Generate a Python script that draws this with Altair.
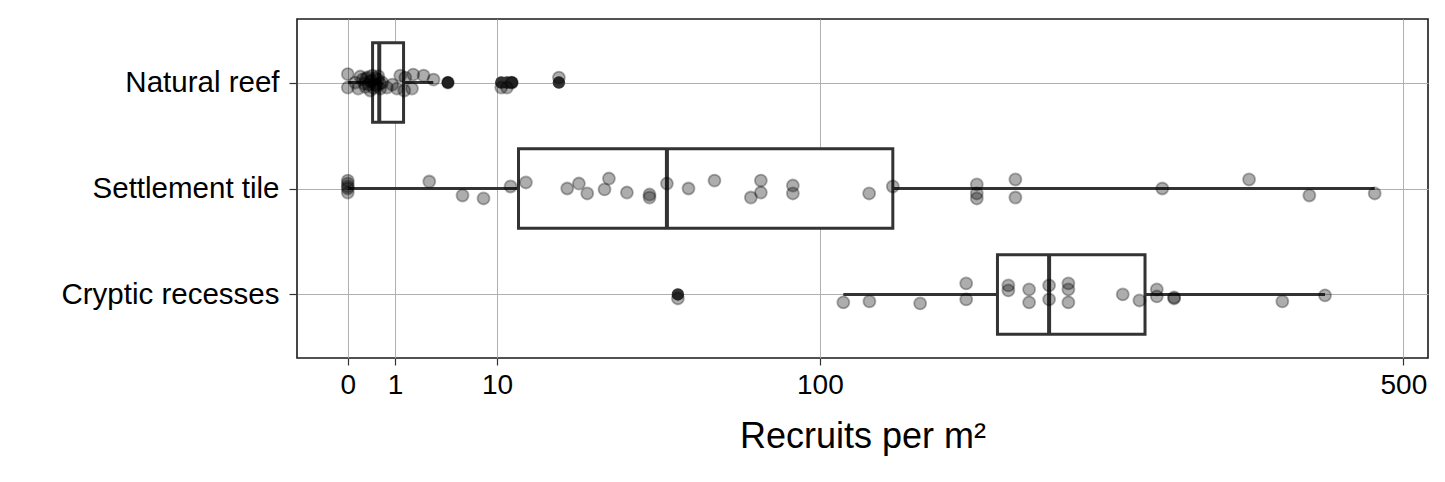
import altair as alt
import pandas as pd

# ---------------- data ----------------
categories = ["Natural reef", "Settlement tile", "Cryptic recesses"]
cat_pos = [3, 2, 1]  # top to bottom

# box-plot summaries (recruits per m^2)
box_q1 = [0.276, 13.08, 189.4]
box_median = [0.445, 45.7, 220.7]
box_q3 = [1.396, 133.3, 285.2]
whisker_lo = [0.0, 0.0, 110.2]
whisker_hi = [3.28, 473.2, 428.5]

# outliers drawn by the box plot
outlier_site = ["Natural reef"] * 5 + ["Cryptic recesses"]
outlier_value = [4.50, 10.57, 11.37, 12.09, 20.0, 48.9]

# jittered observations (value, vertical jitter in category units, + = down)
reef_values = [0, 0.07, 0.15, 0.27, 0.41, 1.236, 1.483, 1.924, 2.578, 3.30,
               0.025, 0.122, 0.227, 0.339, 0.534, 0.888,
               0, 0.049, 0.227, 0.474, 0.689, 1.086, 1.432, 1.849,
               0.10, 0.14, 0.18, 0.20, 0.25, 0.30, 0.35, 0.38, 0.42, 0.47,
               4.50, 10.57, 11.37, 12.09, 20.0]
reef_jitter = [-0.08, -0.057, -0.038, -0.066, -0.028, -0.066, -0.047, -0.075, -0.066, -0.028,
               0.0, 0.009, -0.009, 0.019, 0.0, 0.019,
               0.047, 0.057, 0.075, 0.057, 0.047, 0.057, 0.075, 0.057,
               -0.03, 0.04, -0.05, 0.02, -0.02, 0.05, -0.04, 0.03, -0.06, 0.01,
               0.0, 0.047, 0.047, 0.0, -0.047]

tile_values = [0, 0, 0, 0, 0, 2.98, 5.91, 8.27, 11.89, 14.24, 21.61, 23.97, 25.73,
               29.58, 30.6, 34.96, 40.85, 40.85, 45.7, 52.09, 60.34, 72.91, 76.57,
               76.57, 88.89, 88.89, 121.97, 133.3, 177.55, 177.55, 177.55, 200.0,
               200.0, 297.7, 364.5, 414.9, 473.2]
tile_jitter = [-0.075, -0.047, -0.019, 0.0, 0.038, -0.066, 0.066, 0.094, -0.019, -0.057,
               0.0, -0.047, 0.047, 0.009, -0.094, 0.038, 0.057, 0.085, -0.047, 0.0,
               -0.075, 0.085, -0.075, 0.038, -0.028, 0.047, 0.047, -0.019, -0.038,
               0.047, 0.094, -0.085, 0.085, 0.0, -0.085, 0.066, 0.047]

cryptic_values = [48.9, 110.2, 122.1, 147.0, 171.6, 171.6, 195.8, 195.8, 208.3, 208.3,
                  220.7, 220.7, 233.0, 233.0, 233.0, 269.5, 281.2, 293.7, 293.7,
                  306.4, 306.4, 391.9, 428.5]
cryptic_jitter = [0.038, 0.075, 0.066, 0.085, -0.104, 0.047, -0.085, -0.038, -0.047, 0.075,
                  -0.085, 0.047, -0.104, -0.047, 0.075, 0.0, 0.057, -0.047, 0.019,
                  0.028, 0.038, 0.066, 0.009]

x_ticks = [0, 1, 10, 100, 500]

# ---------------- tables ----------------
pos_of = dict(zip(categories, cat_pos))

box_df = pd.DataFrame({
    "site": categories, "pos": cat_pos, "q1": box_q1, "median": box_median,
    "q3": box_q3, "lo": whisker_lo, "hi": whisker_hi,
})
out_df = pd.DataFrame({"site": outlier_site, "value": outlier_value})
out_df["pos"] = out_df["site"].map(pos_of)

pts = []
for site, vals, jit in [("Natural reef", reef_values, reef_jitter),
                        ("Settlement tile", tile_values, tile_jitter),
                        ("Cryptic recesses", cryptic_values, cryptic_jitter)]:
    for v, j in zip(vals, jit):
        pts.append({"site": site, "value": v, "ypos": pos_of[site] - j})
pts_df = pd.DataFrame(pts)

# ---------------- scales / axes ----------------
FONT = "Liberation Sans"
x_scale = alt.Scale(type="sqrt", domain=[-1.157, 523.6], nice=False, zero=False)
y_scale = alt.Scale(domain=[0.4, 3.6], nice=False, zero=False)

label_expr = " : ".join(
    [f"datum.value == {p} ? '{c}'" for c, p in zip(categories, cat_pos)] + ["''"]
)

x_axis = alt.Axis(
    values=x_ticks, format="d", title="Recruits per m²", grid=True,
    gridColor="#b0b0b0", gridWidth=1, domain=False, ticks=True, tickSize=7,
    tickColor="#333333", tickWidth=1.2, labelFont=FONT, labelFontSize=28,
    labelColor="black", labelPadding=6, titleFont=FONT, titleFontSize=36,
    titleFontWeight="normal", titleColor="black", titlePadding=20,
    labelFlush=False, labelOverlap=False,
)
y_axis = alt.Axis(
    values=cat_pos, labelExpr=label_expr, title=None, grid=True,
    gridColor="#b0b0b0", gridWidth=1, domain=False, ticks=True, tickSize=8,
    tickColor="#333333", tickWidth=1.2, labelFont=FONT, labelFontSize=29.5,
    labelColor="black", labelPadding=10, labelLimit=0,
)

base_box = alt.Chart(box_df).transform_calculate(
    ylo="datum.pos - 0.375", yhi="datum.pos + 0.375"
)

whiskers = base_box.mark_rule(color="#333333", strokeWidth=3).encode(
    x=alt.X("lo:Q", scale=x_scale, axis=x_axis),
    x2="hi:Q",
    y=alt.Y("pos:Q", scale=y_scale, axis=y_axis),
)
boxes = base_box.mark_rect(fill="white", stroke="#333333", strokeWidth=3).encode(
    x=alt.X("q1:Q", scale=x_scale),
    x2="q3:Q",
    y=alt.Y("ylo:Q", scale=y_scale),
    y2="yhi:Q",
)
medians = base_box.mark_rule(color="#333333", strokeWidth=4).encode(
    x=alt.X("median:Q", scale=x_scale),
    y=alt.Y("ylo:Q", scale=y_scale),
    y2="yhi:Q",
)
outliers = alt.Chart(out_df).mark_circle(size=155, color="#333333", opacity=1).encode(
    x=alt.X("value:Q", scale=x_scale),
    y=alt.Y("pos:Q", scale=y_scale),
)
points = alt.Chart(pts_df).mark_circle(
    size=145, fill="black", fillOpacity=0.32, stroke="black",
    strokeOpacity=0.3, strokeWidth=1.8,
).encode(
    x=alt.X("value:Q", scale=x_scale),
    y=alt.Y("ypos:Q", scale=y_scale),
)

chart = alt.layer(whiskers, boxes, medians, outliers, points).properties(
    width=1131, height=339,
    autosize=alt.AutoSizeParams(type="none"),
    padding={"left": 297, "top": 19, "right": 17, "bottom": 124},
    background="white",
).configure_view(stroke="#1a1a1a", strokeWidth=1.6)

chart.save("out.html", embed_options={"renderer": "svg", "actions": False})
